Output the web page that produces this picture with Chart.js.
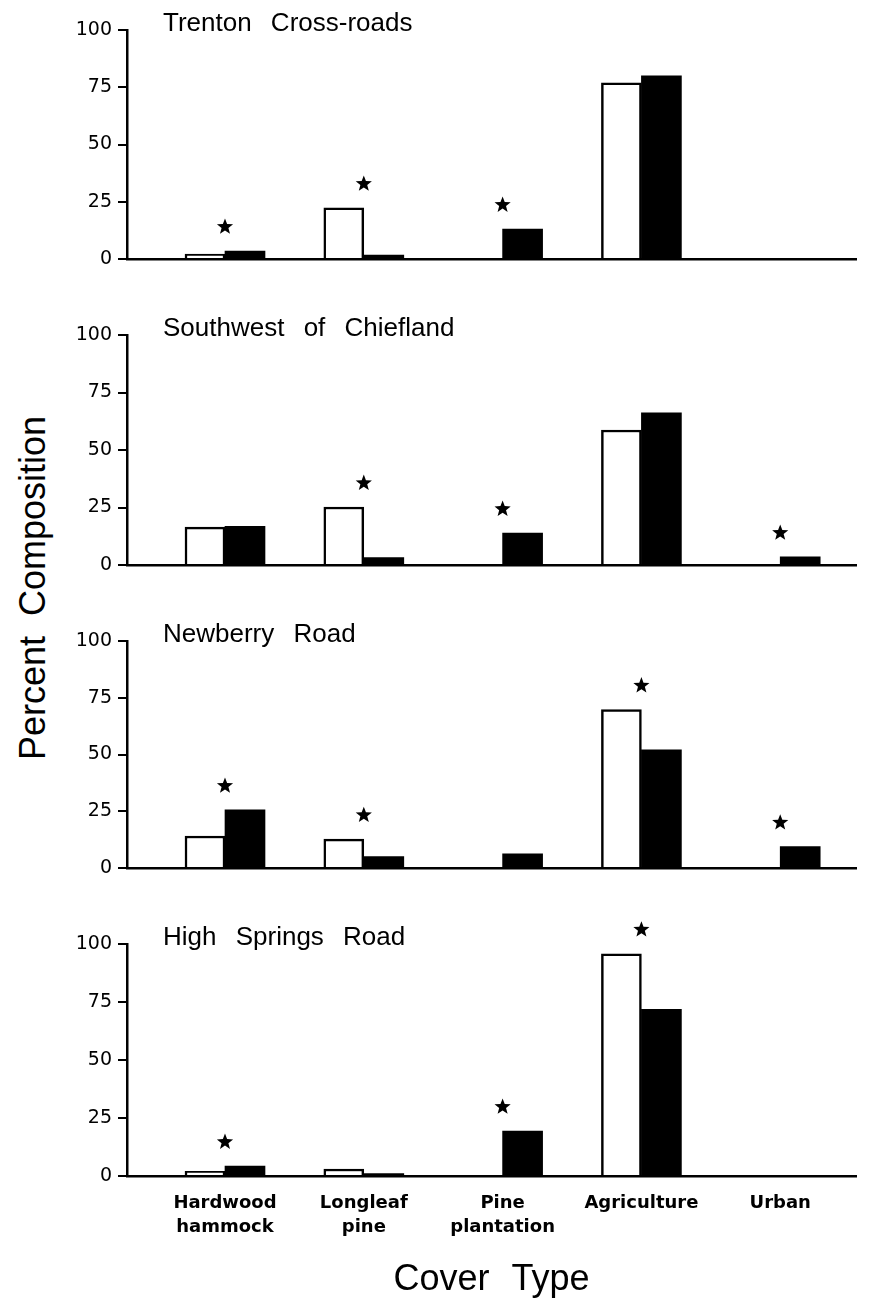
<!DOCTYPE html>
<html>
<head>
<meta charset="utf-8">
<script src="https://cdn.jsdelivr.net/npm/chart.js@4.4.0/dist/chart.umd.min.js"></script>
<style>
  html, body { margin: 0; padding: 0; background: #fff; }
  #page { position: relative; width: 871px; height: 1304px; overflow: hidden; background: #fff; }
  .panel { position: absolute; left: 0; width: 871px; }
  #yTitle {
    position: absolute; left: -168px; top: 568px; width: 400px; height: 40px;
    line-height: 40px; text-align: center; font: 36px "Liberation Sans";
    word-spacing: 10px; transform: rotate(-90deg); color: #000;
  }
</style>
</head>
<body>
<div id="page">
  <div id="yTitle">Percent Composition</div>
</div>
<script>
// cover types along the x axis
const coverTypes = ['Hardwood hammock', 'Longleaf pine', 'Pine plantation', 'Agriculture', 'Urban'];
const coverTickLabels = [['Hardwood', 'hammock'], ['Longleaf', 'pine'], ['Pine', 'plantation'], ['Agriculture'], ['Urban']];
const yTicks = [0, 25, 50, 75, 100];

const siteNames = ['Trenton Cross-roads', 'Southwest of Chiefland', 'Newberry Road', 'High Springs Road'];

// open (white) bars and solid (black) bars, percent composition
const trentonOpen = [2.2, 22.3, 0, 76.9, 0];
const trentonSolid = [3.5, 1.7, 13.1, 80.0, 0];
const trentonStar = [1, 1, 1, 0, 0];

const chieflandOpen = [16.5, 25.2, 0, 58.7, 0];
const chieflandSolid = [16.8, 3.2, 13.9, 66.2, 3.5];
const chieflandStar = [0, 1, 1, 0, 1];

const newberryOpen = [14.1, 12.7, 0, 69.8, 0];
const newberrySolid = [25.6, 5.0, 6.2, 52.1, 9.4];
const newberryStar = [1, 1, 0, 1, 1];

const highSpringsOpen = [2.0, 3.0, 0, 95.8, 0];
const highSpringsSolid = [4.3, 1.0, 19.4, 71.8, 0];
const highSpringsStar = [1, 0, 1, 1, 0];

const siteOpen = [trentonOpen, chieflandOpen, newberryOpen, highSpringsOpen];
const siteSolid = [trentonSolid, chieflandSolid, newberrySolid, highSpringsSolid];
const siteStar = [trentonStar, chieflandStar, newberryStar, highSpringsStar];

// plot area of each panel on the page (px)
const panelBoxes = [
    { top: 30, bottom: 259 },
    { top: 335, bottom: 565 },
    { top: 641, bottom: 868 },
    { top: 944, bottom: 1176 }
];

function drawStar(ctx, cx, cy, outer, inner) {
    ctx.beginPath();
    for (let k = 0; k < 10; k++) {
        const r = k % 2 === 0 ? outer : inner;
        const a = -Math.PI / 2 + k * Math.PI / 5;
        const px = cx + r * Math.cos(a), py = cy + r * Math.sin(a);
        if (k === 0) ctx.moveTo(px, py); else ctx.lineTo(px, py);
    }
    ctx.closePath();
    ctx.fill();
}

function makeStarPlugin(flags) {
    return {
        id: 'stars',
        afterDatasetsDraw(chart) {
            const { ctx } = chart;
            const open = chart.getDatasetMeta(0).data;
            const solid = chart.getDatasetMeta(1).data;
            ctx.save();
            ctx.fillStyle = '#000';
            flags.forEach((f, i) => {
                if (!f) return;
                const x = (open[i].x + solid[i].x) / 2;
                const y = Math.min(open[i].y, solid[i].y) - 24;
                drawStar(ctx, x, y, 8.5, 3.6);
            });
            ctx.restore();
        }
    };
}

function makeSitePlugin(name) {
    return {
        id: 'siteName',
        beforeDraw(chart) {
            chart.ctx.wordSpacing = '12px';
        },
        afterDraw(chart) {
            const { ctx, chartArea } = chart;
            ctx.save();
            ctx.font = '26px "Liberation Sans"';
            ctx.wordSpacing = '12px';
            ctx.fillStyle = '#000';
            ctx.textAlign = 'left';
            ctx.textBaseline = 'alphabetic';
            ctx.fillText(name, chartArea.left + 36, chartArea.top + 1);
            ctx.restore();
        }
    };
}

const page = document.getElementById('page');

siteNames.forEach((name, p) => {
    const box = panelBoxes[p];
    const isBottom = p === siteNames.length - 1;
    const canvasTop = box.top - 30;
    const canvasH = isBottom ? 1304 - canvasTop : box.bottom - canvasTop + 20;
    const axisH = canvasH - 30 - (box.bottom - box.top);

    const wrap = document.createElement('div');
    wrap.className = 'panel';
    wrap.style.top = canvasTop + 'px';
    wrap.style.height = canvasH + 'px';
    const canvas = document.createElement('canvas');
    canvas.width = 871;
    canvas.height = canvasH;
    wrap.appendChild(canvas);
    page.appendChild(wrap);

    new Chart(canvas.getContext('2d'), {
        type: 'bar',
        data: {
            datasets: [{
                label: 'Open',
                data: siteOpen[p].map((v, i) => ({ x: i, y: v })),
                backgroundColor: '#fff',
                borderColor: '#000',
                borderWidth: 2.5,
                borderSkipped: 'start',
                barThickness: 40
            }, {
                label: 'Solid',
                data: siteSolid[p].map((v, i) => ({ x: i, y: v })),
                backgroundColor: '#000',
                borderColor: '#000',
                borderWidth: 0,
                barThickness: 40
            }]
        },
        options: {
            responsive: false,
            animation: false,
            layout: { padding: { top: 30, right: 15, bottom: 0, left: 0 } },
            plugins: {
                legend: { display: false },
                tooltip: { enabled: false }
            },
            scales: {
                x: {
                    type: 'linear',
                    offset: false,
                    min: -0.706,
                    max: 4.546,
                    z: 1,
                    grid: { display: false, drawTicks: false },
                    border: { display: true, color: '#000', width: 2.5 },
                    ticks: {
                        display: isBottom,
                        stepSize: 1,
                        includeBounds: false,
                        autoSkip: false,
                        maxRotation: 0,
                        padding: 15,
                        color: '#000',
                        font: { family: 'DejaVu Sans', size: 18, weight: 'bold', lineHeight: 1.35 },
                        callback: v => Number.isInteger(v) && coverTickLabels[v] ? coverTickLabels[v] : ''
                    },
                    title: {
                        display: isBottom,
                        text: 'Cover Type',
                        color: '#000',
                        font: { family: 'Liberation Sans', size: 36, lineHeight: 1.2 },
                        padding: { top: 0, bottom: 2 }
                    },
                    afterFit: s => { s.height = axisH; }
                },
                y: {
                    min: yTicks[0],
                    max: yTicks[yTicks.length - 1],
                    ticks: {
                        stepSize: yTicks[1] - yTicks[0],
                        padding: 6,
                        color: '#000',
                        font: { family: 'DejaVu Sans', size: 19 }
                    },
                    grid: { drawOnChartArea: false, drawTicks: true, tickLength: 9, color: '#000', lineWidth: 2 },
                    border: { color: '#000', width: 2.5 },
                    afterFit: s => { s.width = 127; }
                }
            }
        },
        plugins: [makeStarPlugin(siteStar[p]), makeSitePlugin(name)]
    });
});
</script>
</body>
</html>
